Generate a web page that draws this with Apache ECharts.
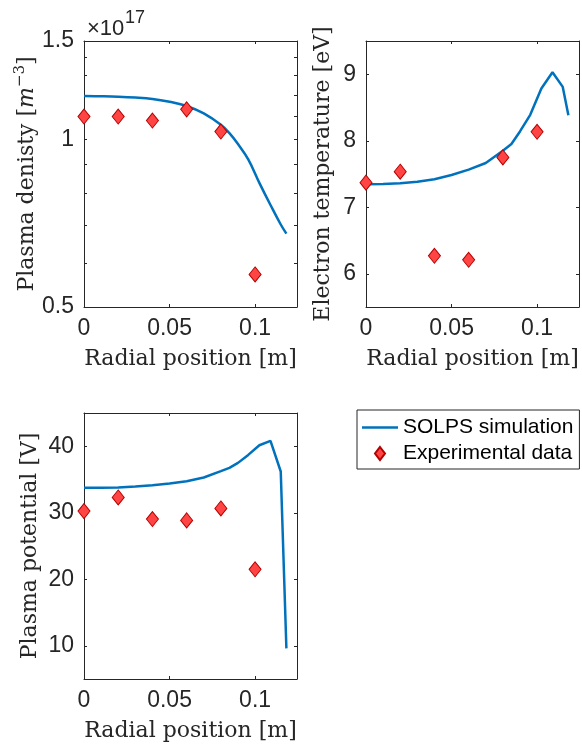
<!DOCTYPE html>
<html><head><meta charset="utf-8">
<script src="https://cdn.jsdelivr.net/npm/echarts@6/dist/echarts.min.js"></script>
<style>html,body{margin:0;padding:0;background:#fff}#c{width:582px;height:744px}</style>
</head><body><div id="c"></div>
<script>
// ---- data ----
const simX = [0, 0.01, 0.02, 0.03, 0.04, 0.05, 0.06, 0.07, 0.08, 0.085, 0.09, 0.096, 0.1025, 0.109, 0.115, 0.1183];
const simDensity = [1.195, 1.194, 1.192, 1.188, 1.181, 1.167, 1.147, 1.112, 1.061, 1.025, 0.980, 0.920, 0.835, 0.762, 0.703, 0.677]; // x1e17 m^-3
const simTe = [7.345, 7.35, 7.36, 7.385, 7.42, 7.485, 7.565, 7.665, 7.85, 7.95, 8.14, 8.39, 8.785, 9.03, 8.81, 8.385];
const simVp = [33.75, 33.77, 33.8, 33.95, 34.15, 34.4, 34.75, 35.3, 36.25, 36.75, 37.5, 38.7, 40.15, 40.8, 36.2, 9.6];
const expX = [0, 0.02, 0.04, 0.06, 0.08, 0.1];
const expDensity = [1.098, 1.098, 1.080, 1.131, 1.032, 0.572]; // x1e17 m^-3
const expTe = [7.37, 7.535, 6.27, 6.21, 7.75, 8.135];
const expVp = [30.25, 32.3, 29.05, 28.85, 30.65, 21.5];
const xTicks = [0, 0.05, 0.1];
const densityTicks = [0.5, 1, 1.5];
const densityMinorTicks = [0.5, 0.6, 0.7, 0.8, 0.9, 1, 1.1, 1.2, 1.3, 1.4, 1.5];
const teTicks = [6, 7, 8, 9];
const vpTicks = [10, 20, 30, 40];

// ---- styles ----
const AX = '#262626';
const SANS = 'Liberation Sans';
const SERIF = 'DejaVu Serif';
const tickFont = { fontFamily: SANS, fontSize: 23, color: AX };
const nameFont = { fontFamily: SERIF, fontSize: 22, color: AX };
const XMAX = 0.1245;

const grids = [
  { left: 84, top: 41, width: 213, height: 266 },
  { left: 366, top: 41, width: 213, height: 266 },
  { left: 84, top: 413, width: 213, height: 266 }
];

function xAxes(g) {
  const base = {
    gridIndex: g, type: 'value', min: 0, max: XMAX,
    axisLine: { show: true, onZero: false, lineStyle: { color: AX, width: 1 } },
    axisTick: { show: true, inside: true, length: 3, customValues: xTicks, lineStyle: { color: AX } },
    splitLine: { show: false }
  };
  return [
    Object.assign({}, base, {
      position: 'bottom',
      axisLabel: Object.assign({ customValues: xTicks, margin: 10 }, tickFont),
      name: 'Radial position [m]', nameLocation: 'middle', nameGap: 41, nameTextStyle: nameFont
    }),
    Object.assign({}, base, { position: 'top', axisLabel: { show: false } })
  ];
}

function yAxes(g, cfg) {
  const base = {
    gridIndex: g, type: cfg.type, min: cfg.min, max: cfg.max,
    axisLine: { show: true, onZero: false, lineStyle: { color: AX, width: 1 } },
    axisTick: { show: true, inside: true, length: 3, customValues: cfg.tickValues, lineStyle: { color: AX } },
    splitLine: { show: false }
  };
  if (cfg.type === 'log') base.logBase = 10;
  return [
    Object.assign({}, base, {
      position: 'left',
      axisLabel: Object.assign({ customValues: cfg.labelValues, margin: 10 }, tickFont),
      name: cfg.name, nameLocation: 'middle', nameRotate: 90, nameGap: cfg.gap,
      nameTextStyle: Object.assign({}, nameFont, {
        rich: {
          t: { fontFamily: SERIF, fontSize: 22, color: AX, lineHeight: 30, verticalAlign: 'middle' },
          i: { fontFamily: SERIF, fontSize: 22, fontStyle: 'italic', color: AX, lineHeight: 30, verticalAlign: 'middle' },
          s: { fontFamily: SERIF, fontSize: 15, color: AX, padding: [0, 0, 14, 0], verticalAlign: 'middle' }
        }
      })
    }),
    Object.assign({}, base, { position: 'right', axisLabel: { show: false } })
  ];
}

const xAxis = [].concat(xAxes(0), xAxes(1), xAxes(2));
const yAxis = [].concat(
  yAxes(0, { type: 'log', min: 0.5, max: 1.5, tickValues: densityMinorTicks, labelValues: densityTicks,
             name: '{t|Plasma denisty [}{i|m}{s|−3}{t|]}', gap: 42 }),
  yAxes(1, { type: 'value', min: 5.5, max: 9.5, tickValues: teTicks, labelValues: teTicks,
             name: '{t|Electron temperature [eV]}', gap: 28 }),
  yAxes(2, { type: 'value', min: 5, max: 45, tickValues: vpTicks, labelValues: vpTicks,
             name: '{t|Plasma potential [V]}', gap: 39 })
);

function pairs(xs, ys) { return xs.map((x, i) => [x, ys[i]]); }

const simSets = [simDensity, simTe, simVp];
const expSets = [expDensity, expTe, expVp];
const series = [];
for (let g = 0; g < 3; g++) {
  series.push({
    name: 'SOLPS simulation', type: 'line', xAxisIndex: 2 * g, yAxisIndex: 2 * g,
    data: pairs(simX, simSets[g]), symbol: 'none', showSymbol: false, smooth: g === 0 ? 0.4 : false,
    lineStyle: { color: '#0072BD', width: 2.5 }, itemStyle: { color: '#0072BD' }, z: 2
  });
  series.push({
    name: 'Experimental data', type: 'scatter', xAxisIndex: 2 * g, yAxisIndex: 2 * g,
    data: pairs(expX, expSets[g]), symbol: 'diamond', symbolSize: [12, 15], clip: false,
    itemStyle: { color: '#FF4444', borderColor: '#B40000', borderWidth: 1, opacity: 1 }, z: 3
  });
}

const chart = echarts.init(document.getElementById('c'), null, { renderer: 'canvas' });
chart.setOption({
  animation: false,
  backgroundColor: '#fff',
  graphic: [
    { type: 'text', left: 87, top: 18, z: 10,
      style: { text: '×10', fill: AX, font: 'normal 22px "Liberation Sans"' } },
    { type: 'text', left: 125, top: 9, z: 10,
      style: { text: '17', fill: AX, font: 'normal 18px "Liberation Sans"' } }
  ],
  legend: {
    orient: 'vertical', left: 357, top: 410,
    padding: [7, 6, 5, 5], itemGap: 5, itemWidth: 36, itemHeight: 13,
    borderColor: AX, borderWidth: 1, backgroundColor: '#fff',
    textStyle: { fontFamily: SANS, fontSize: 21, color: '#000' },
    data: [
      { name: 'SOLPS simulation', icon: 'path://M0,0L36,0L36,2.5L0,2.5Z' },
      { name: 'Experimental data', icon: 'path://M5,0L10,6.5L5,13L0,6.5Z' }
    ]
  },
  grid: grids,
  xAxis: xAxis,
  yAxis: yAxis,
  series: series
});
</script>
</body></html>
